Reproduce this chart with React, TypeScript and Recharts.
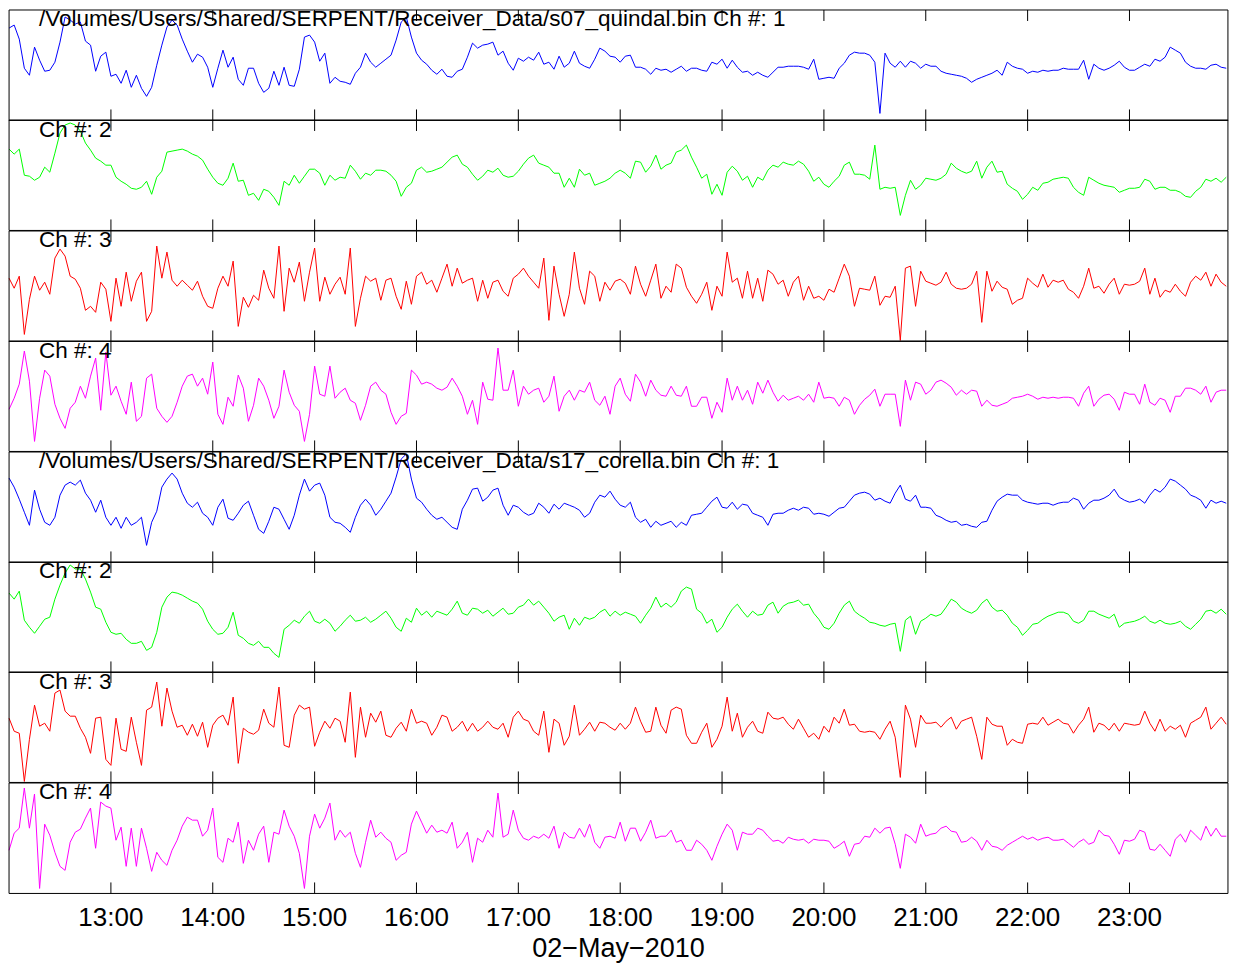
import { Line, LineChart, XAxis, YAxis } from "recharts";

// sample times: minutes after 12:00, every 3 minutes
const MINUTES = Array.from({ length: 240 }, (_, i) => i * 3);
const HOUR_TICKS = [60, 120, 180, 240, 300, 360, 420, 480, 540, 600, 660];
const DATE_LABEL = "02\u2212May\u22122010";

// amplitudes (arbitrary units, one panel spans -55..55)
const quindalCh1 = [
  37, 40, 26, -3, -10, 18, 5, -6, -5, 3, 23, 48, 45, 41, 43, 24, 20, -6, 9, 13,
  -11, -9, -18, -5, -22, -10, -23, -31, -22, 0, 20, 38, 45, 40, 26, 14, 3, 11, 8, -2,
  -22, -3, 15, -2, 8, -14, -20, -3, -3, -18, -27, -23, -6, -20, -2, -20, -21, -4, 28, 30,
  23, 4, 12, -18, -12, -16, -17, -19, -8, -2, 12, 3, -2, 2, 6, 10, 25, 43, 48, 28,
  12, 5, 1, -5, -9, -4, -11, -12, -6, -4, 8, 22, 17, 20, 21, 23, 10, 14, 2, -5,
  7, 4, 8, 5, 13, 1, 3, -4, 9, -2, 2, 14, 2, -1, -3, 6, 17, 14, 9, 8,
  3, 9, 10, -2, -2, -4, -9, -3, -5, -4, -7, -4, -1, -6, -3, -3, -5, -6, 3, 1,
  6, -3, 5, -2, -7, -6, -10, -7, -10, -12, -7, -2, -2, -1, -1, -1, -2, -4, 6, -14,
  -13, -12, -13, -3, 2, 10, 13, 12, 12, 10, 3, -48, 12, 2, -2, 4, -2, 4, 2, -3,
  1, -1, -1, -6, -8, -9, -10, -11, -13, -17, -14, -12, -10, -8, -5, -10, 3, -1, -3, -4,
  -8, -6, -7, -5, -6, -5, -5, -3, -4, -4, -4, 5, -14, 1, -3, -5, -3, 0, 4, -2,
  -5, -5, -2, 1, -1, 6, 4, 8, 18, 15, 12, 3, -1, -3, -3, -4, 0, 1, -2, -3,
];
const quindalCh2 = [
  26, 21, 26, 0, -1, -5, -2, 8, 3, 22, 42, 50, 52, 50, 44, 32, 25, 17, 14, 10,
  10, -2, -6, -9, -13, -14, -12, -6, -19, -2, 4, 23, 24, 25, 26, 24, 21, 19, 15, 6,
  -2, -8, -10, -3, 12, -6, -5, -20, -18, -25, -14, -16, -22, -30, -6, -10, 0, -8, -1, 6,
  6, 2, -10, 0, -5, -2, -3, 10, 4, -4, 2, 0, 5, 5, 4, 0, -6, -21, -12, -8,
  5, 8, 3, 4, 6, 8, 13, 18, 20, 11, 8, 1, -5, -1, 5, 3, 7, 0, -2, -1,
  4, 11, 17, 20, 12, 10, 8, 2, 2, -12, -3, -12, 6, 0, 2, -10, -8, -6, -3, 2,
  5, 2, -3, 14, 13, 3, 9, 20, 6, 10, 12, 23, 25, 30, 18, 8, -3, 1, -19, -9,
  -20, 3, 9, 4, -5, -1, -12, -2, -5, 5, 10, 8, 13, 11, 10, 14, 11, 4, -6, -2,
  -9, -12, -6, -1, 10, 13, 1, 1, 0, -4, 30, -14, -12, -13, -12, -40, -20, -5, -14, -10,
  -3, -4, -5, -3, 1, 12, 7, 4, 2, 4, 14, -3, 8, 14, 3, 4, -9, -13, -16, -24,
  -19, -12, -15, -8, -7, -4, -3, -2, -3, -12, -17, -20, -2, -5, -8, -10, -11, -12, -17, -15,
  -13, -13, -12, -4, -6, -14, -12, -12, -15, -15, -17, -21, -22, -16, -12, -4, -6, -3, -7, -2,
];
const quindalCh3 = [
  8, -2, 10, -48, -13, 10, -4, 4, -8, 28, 37, 30, 10, 7, -2, -24, -20, -26, 4, -3,
  -35, 8, -20, 14, -15, 5, 14, -35, -25, 40, 8, 34, 6, 0, 6, 1, -4, 5, -10, -20,
  -22, -2, 10, 0, 25, -40, -11, -21, -9, -14, 16, -2, -12, 40, -25, 18, 4, 24, -15, 14,
  38, -15, 9, -8, 2, 9, -8, 38, -40, -12, 10, 5, 8, -14, 6, 8, -10, -23, 5, -18,
  10, 14, 2, 6, -6, 8, 22, 0, 18, 3, 6, 8, -15, 6, -12, 4, 6, -5, -10, 8,
  12, 18, 10, 4, -2, 28, -34, 20, -8, -30, -8, 34, -2, -18, 15, 10, -15, 4, -4, 5,
  7, 3, -8, 20, 2, -10, 6, 22, -12, 0, -6, 22, 18, -1, -10, -17, -8, 4, -24, 0,
  -10, 34, 4, 8, -12, 15, -12, 8, -15, 16, 12, 2, 6, -10, 4, 10, -14, 0, -12, -10,
  -14, -3, -6, 8, 22, 10, -20, -2, -3, -4, 10, -19, -10, -11, 0, -54, 18, 20, -20, 15,
  5, 3, 1, 4, 14, 2, -2, -3, -2, 2, 15, -36, 15, -5, 5, -1, -3, -18, -14, -12,
  8, 3, -1, 12, -1, 6, 4, 6, -3, -6, -12, 0, 18, -2, 0, -7, 2, 8, -8, 2,
  1, 2, 5, 18, -8, 8, -11, -4, -6, 2, -5, -10, 4, 10, 6, 14, 0, 12, 4, 0,
];
const quindalCh4 = [
  -13, -2, 12, 45, 15, -45, -2, 26, 20, -8, -22, -32, -12, -6, 10, -2, 20, 38, -14, 44,
  1, 10, -5, -18, 14, -25, -20, 18, 22, -12, -20, -26, -20, -6, 10, 20, 22, 10, 18, 2,
  34, -18, -28, -1, -10, 21, 8, -25, -9, 18, 10, -4, -22, -10, 26, 4, -9, -15, -45, -18,
  30, 2, 0, 30, -2, 4, 8, -4, -7, -24, -9, 10, 14, 6, 2, -16, -28, -20, -17, 26,
  21, 12, 14, 12, 8, 6, 9, 18, 10, 0, -18, -4, -28, 14, -3, -4, 48, 6, 6, 26,
  -10, 10, 2, 6, 8, -6, 0, 20, -15, 0, 6, -4, 6, 4, 14, -4, -9, 0, -18, 10,
  18, 2, -5, 22, 14, 0, 16, 6, 1, 0, 10, 1, 0, 10, -10, -10, -1, -1, -22, -6,
  -16, 18, -4, 10, -4, 6, -8, 14, 3, 16, 4, -5, 1, -4, -2, 0, -4, 2, -6, 14,
  -2, -1, -2, -10, -1, -4, -18, -9, -3, 1, 7, -10, 2, 2, 2, -30, 16, -4, 14, 12,
  2, 6, 14, 16, 13, 9, 1, 6, 2, 6, 5, -10, -4, -9, -10, -8, -6, -2, -1, 0,
  2, 0, -3, -1, -2, -1, -2, -1, -1, -2, -10, 3, 10, -10, -3, 1, 2, -3, -14, 4,
  2, 2, -8, 12, -6, -9, -2, -4, -16, 0, 0, 8, 8, 6, 2, 10, -6, 4, 6, 6,
];
const corellaCh1 = [
  29, 20, 8, -5, -18, 17, -2, -15, -18, -10, 12, 22, 25, 22, 27, 14, 7, -5, 7, -10,
  -18, -10, -21, -10, -18, -15, -10, -38, -15, -4, 20, 28, 34, 28, 14, 4, 0, 5, -6, -10,
  -18, 0, 8, -11, -13, -6, 2, 6, -8, -22, -26, -14, 0, -2, -12, -22, -8, 12, 28, 16,
  22, 24, 12, -10, -15, -16, -20, -25, -10, 2, 8, 2, -8, -2, 6, 14, 30, 48, 53, 28,
  9, 5, -2, -8, -12, -10, -15, -20, -22, -2, 7, 18, 19, 6, 10, 17, 19, 2, -8, 2,
  0, -5, -8, -6, 4, 0, -6, 3, -2, 4, 2, 0, -3, -10, -6, 5, 12, 10, 16, 8,
  2, 0, 5, -10, -15, -12, -20, -14, -18, -16, -14, -20, -15, -18, -8, -7, -6, 0, 6, 10,
  0, -1, 5, -2, 3, 2, -6, -8, -10, -18, -7, -6, -6, -3, -1, -3, 0, -1, -7, -6,
  -7, -9, -5, -1, 0, 6, 12, 14, 15, 13, 7, 9, 6, 4, 14, 22, 8, 6, 12, 0,
  0, -1, -8, -10, -13, -15, -14, -18, -17, -19, -20, -15, -14, -3, 6, 10, 13, 12, 12, 7,
  5, 4, 3, 4, 4, 2, 4, 5, 5, 9, 7, -2, 4, 7, 7, 9, 12, 18, 10, 7,
  5, 6, 8, 4, 12, 18, 15, 20, 28, 26, 22, 18, 12, 10, 7, -1, 7, 4, 6, 4,
];
const corellaCh2 = [
  24, 18, 26, -3, -10, -16, -9, -2, 0, 18, 32, 44, 52, 48, 48, 38, 25, 10, 8, -5,
  -15, -17, -16, -22, -26, -26, -24, -33, -30, -15, 10, 20, 25, 24, 22, 19, 16, 14, 8, -4,
  -12, -17, -16, -10, 5, -18, -21, -26, -28, -24, -30, -30, -36, -40, -12, -8, -3, -6, 1, 6,
  -4, -6, -2, -6, -14, -9, -3, 2, -4, -3, 0, -5, -2, 2, 6, -1, -10, -14, -1, -5,
  9, 2, 6, 0, 6, 4, 2, 8, 16, 4, 2, 9, 8, 4, 7, 1, 5, 9, 3, 4,
  10, 12, 18, 12, 16, 10, 4, -4, 0, 2, -12, -1, -8, 0, -2, 0, 5, 8, 1, 6,
  2, 5, 3, 1, -6, 2, 9, 20, 10, 14, 10, 15, 26, 30, 28, 8, 4, -6, -2, -15,
  -10, 0, 8, 13, 6, 0, 6, 2, 3, 12, 15, 4, 11, 14, 15, 17, 12, 13, 4, -2,
  -10, -12, -6, 4, 12, 16, 6, 2, -1, -5, -6, -8, -9, -7, -6, -34, -3, 1, -17, -4,
  -1, 3, 1, 3, 10, 18, 15, 9, 6, 4, 7, 14, 18, 10, 6, 7, 2, -6, -10, -18,
  -13, -7, -6, -2, 1, 3, 5, 5, 3, -4, -6, -3, 6, 6, 3, 1, -1, 3, -10, -6,
  -5, -4, -2, 1, -4, -6, -3, -6, -7, -6, -4, -9, -12, -7, -2, 6, 7, 4, 8, 3,
];
const corellaCh3 = [
  9, -4, -6, -54, -12, 22, 1, 4, -4, 34, 37, 16, 11, 11, -1, -10, -26, 9, 10, -32,
  -38, 9, -22, -24, 10, -15, -38, 17, 20, 45, 1, 39, 16, 0, 2, -8, 3, -9, 5, -20,
  2, 9, 12, 2, 30, -36, -1, -5, -7, -3, 18, 4, 0, 40, -18, -20, 12, 22, 18, 20,
  -19, -5, 6, -1, 9, 6, -15, 35, -30, 20, -10, 14, 5, 16, -8, -10, -1, 5, -4, 18,
  4, 6, 4, -8, 0, 12, 10, -4, 0, 6, -4, 4, -4, 0, 6, 0, -2, 4, -10, 10,
  16, 8, 6, -4, -8, 16, -25, 8, 4, -18, -9, 22, -8, -2, 5, -4, 5, 4, 0, -3,
  4, -2, 4, 20, 6, -5, -4, 20, 2, -6, 17, 20, 18, -8, -16, -16, -5, 4, -20, -12,
  1, 30, -4, 14, -10, 0, 6, -4, -6, 15, 9, 8, 10, 3, -2, 8, -1, -10, -6, -12,
  1, -5, 10, 4, 18, 2, 3, -4, -5, -4, -5, -12, -2, 6, -10, -50, 22, 8, -20, 12,
  4, 4, 5, 0, 6, 10, -2, 6, 8, 10, -9, -32, 10, 3, 1, 1, -18, -12, -15, -16,
  3, 4, 3, 10, 2, 5, 8, 4, 3, -6, 2, 8, 20, -5, 4, 2, -3, 4, -4, 4,
  3, 2, 3, 16, 4, -4, 8, -4, 1, -2, 2, -10, 4, 7, 10, 20, -2, 4, 10, 3,
];
const corellaCh4 = [
  -12, 5, 10, 50, 10, 44, -50, 14, 3, -14, -28, -32, -4, 6, 9, 20, 30, -10, 36, 32,
  30, -2, 11, -28, 10, -28, 10, -10, -33, -14, -22, -27, -12, -2, 12, 21, 18, 18, 2, 8,
  30, -19, -24, 0, -4, 16, -25, -2, -12, 4, 12, -24, 6, 4, 28, 12, 2, -15, -50, 2,
  24, 10, 20, 35, -2, 8, 1, 6, -15, -29, -4, 18, 1, 6, 0, -4, -22, -17, -14, 14,
  27, 16, 5, 13, 6, 8, 5, 16, -10, -4, 6, -24, 0, -4, 8, 1, 45, 1, 4, 28,
  8, 0, -2, 2, 0, 4, 0, 12, -10, 6, 1, 0, 10, 1, 14, -4, -10, 1, 2, 0,
  16, -3, 10, 10, -3, 6, 18, 0, 2, 2, 8, -4, -2, -12, -12, -2, -6, -12, -22, -8,
  4, 14, 8, -12, 6, 4, 4, 10, 8, 2, -3, -2, -5, 1, -1, -2, -1, -5, -1, -2,
  -2, -3, -10, -7, -3, -18, -6, -5, 2, 1, 10, 5, 10, 11, -6, -30, 4, 1, -5, 14,
  2, 4, 5, 10, 12, 7, 6, -4, -3, 1, -3, -12, -2, -8, -9, -12, -7, -4, -1, 2,
  -1, 1, -2, 0, 1, -2, -2, -1, -5, -9, -4, -1, -6, -4, 8, 3, 2, -6, -16, -2,
  -3, -1, 8, 6, -11, -12, -6, -12, -18, -1, 4, -4, 8, 3, -2, 12, 2, 10, 2, 2,
];

const PANELS = [
  { title: "/Volumes/Users/Shared/SERPENT/Receiver_Data/s07_quindal.bin Ch #: 1", color: "#0000ff", values: quindalCh1 },
  { title: "Ch #: 2", color: "#00ff00", values: quindalCh2 },
  { title: "Ch #: 3", color: "#ff0000", values: quindalCh3 },
  { title: "Ch #: 4", color: "#ff00ff", values: quindalCh4 },
  { title: "/Volumes/Users/Shared/SERPENT/Receiver_Data/s17_corella.bin Ch #: 1", color: "#0000ff", values: corellaCh1 },
  { title: "Ch #: 2", color: "#00ff00", values: corellaCh2 },
  { title: "Ch #: 3", color: "#ff0000", values: corellaCh3 },
  { title: "Ch #: 4", color: "#ff00ff", values: corellaCh4 },
];

const FONT = '"Liberation Sans", Arial, Helvetica, sans-serif';
const WIDTH = 1233;
const TOP = 9.7;
const PANEL_H = 110.45;
const LABEL_H = 70;

const hourLabel = (m: number) => `${12 + m / 60}:00`;
// tick marks only, no text
const noLabel = () => <g />;

const Panel = ({ values, color, top, last }: any) => {
  const rows = MINUTES.map((t, i) => ({ t, v: values[i] }));
  const bottomH = last ? LABEL_H : 1;
  const height = 1 + PANEL_H + bottomH;
  return (
    <div style={{ position: "absolute", left: 0, top: top - 1 }}>
      <LineChart
        width={WIDTH}
        height={height}
        data={rows}
        margin={{ top: 0, right: 4, bottom: 0, left: 8 }}
      >
        <XAxis
          xAxisId="top"
          orientation="top"
          dataKey="t"
          type="number"
          domain={[0, 718]}
          ticks={HOUR_TICKS}
          height={1}
          tick={noLabel}
          tickSize={-11}
          axisLine={{ stroke: "#000" }}
          tickLine={{ stroke: "#000" }}
        />
        <XAxis
          xAxisId="bottom"
          orientation="bottom"
          dataKey="t"
          type="number"
          domain={[0, 718]}
          ticks={HOUR_TICKS}
          height={bottomH}
          tick={last ? { fontSize: 26, fill: "#000", fontFamily: FONT } : noLabel}
          tickFormatter={hourLabel}
          tickSize={-11}
          tickMargin={25}
          axisLine={{ stroke: "#000" }}
          tickLine={{ stroke: "#000" }}
        />
        <YAxis
          yAxisId="left"
          domain={[-55, 55]}
          width={1}
          tick={false}
          tickLine={false}
          axisLine={{ stroke: "#000" }}
        />
        <YAxis
          yAxisId="right"
          orientation="right"
          domain={[-55, 55]}
          width={1}
          tick={false}
          tickLine={false}
          axisLine={{ stroke: "#000" }}
        />
        <Line
          xAxisId="bottom"
          yAxisId="left"
          dataKey="v"
          stroke={color}
          strokeWidth={1}
          dot={false}
          isAnimationActive={false}
        />
      </LineChart>
    </div>
  );
};

export default function App() {
  return (
    <div style={{ position: "absolute", left: 0, top: 0, width: WIDTH, height: 963, background: "#fff" }}>
      {PANELS.map((p, i) => (
        <Panel key={i} values={p.values} color={p.color} top={TOP + i * PANEL_H} last={i === PANELS.length - 1} />
      ))}
      <svg
        width={WIDTH}
        height={963}
        style={{ position: "absolute", left: 0, top: 0, pointerEvents: "none" }}
      >
        {PANELS.map((p, i) => (
          <text key={i} x={39} y={TOP + i * PANEL_H + 16.5} fontSize={22.5} fontFamily={FONT} fill="#000">
            {p.title}
          </text>
        ))}
        <text x={618.5} y={957} fontSize={27} fontFamily={FONT} fill="#000" textAnchor="middle">
          {DATE_LABEL}
        </text>
      </svg>
    </div>
  );
}
